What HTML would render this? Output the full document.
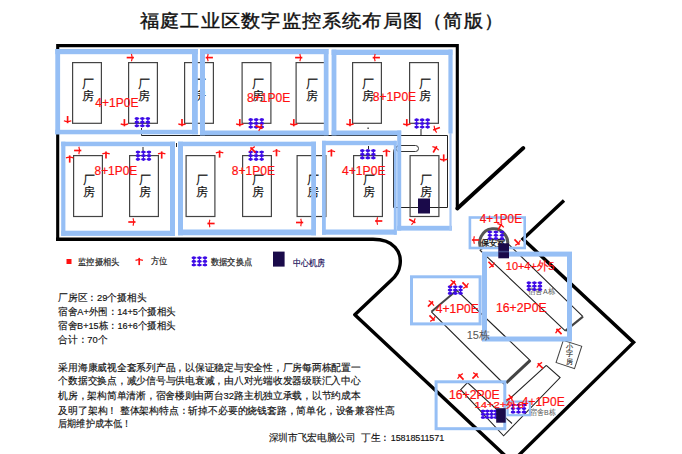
<!DOCTYPE html><html><head><meta charset="utf-8"><style>html,body{margin:0;padding:0;background:#fff;width:682px;height:454px;overflow:hidden}svg{position:absolute;left:0;top:0}.cj{font-family:"Liberation Sans",sans-serif;font-size:11.5px;fill:#111;stroke:#111;stroke-width:0.15}.t{font-family:"Liberation Sans",sans-serif}</style></head><body>
<svg width="682" height="454" viewBox="0 0 682 454">
<g transform="translate(140.0,27.1) scale(1.07,1)"><text x="0" y="0" font-size="17.9" fill="#111" stroke="#111" stroke-width="0.4" textLength="339.7" lengthAdjust="spacing" class="t">福庭工业区数字监控系统布局图（简版）</text></g>
<path d="M57.7,240 L57.7,45.6 L457.3,45.6 L457.3,208.5" fill="none" stroke="#000" stroke-width="3.1"/>
<path d="M457.3,208.5 L523.3,148" fill="none" stroke="#000" stroke-width="3.8" stroke-linecap="round" stroke-linejoin="round"/>
<path d="M56,239.3 L373,239.3 C394,239.3 402,252 400,265 C399,272 396,276 391.5,280 L354.8,314.8 L505,455.5" fill="none" stroke="#000" stroke-width="3.4" stroke-linejoin="round"/>
<path d="M564,200.5 L523,239 L633.6,342.4 L518,456" fill="none" stroke="#000" stroke-width="3.4"/>
<path d="M141.5,128 V135.5 H447.5 V207.5 H393.5 V153 Q393.5,146 400,146" fill="none" stroke="#222" stroke-width="1"/>
<rect x="396" y="145.5" width="22.5" height="6" rx="3" fill="none" stroke="#333" stroke-width="1"/>
<path d="M421,129 V135.5" stroke="#222" stroke-width="1"/>
<rect x="367.5" y="127.5" width="1.2" height="1.5" fill="#222"/>
<path d="M143,147 V151" stroke="#222" stroke-width="1"/>
<path d="M176.5,143 V147" stroke="#222" stroke-width="1"/>
<path d="M368.5,146 V149.5" stroke="#222" stroke-width="1"/>
<rect x="72.6" y="62.6" width="28.8" height="60.7" fill="none" stroke="#444" stroke-width="1.2"/>
<text x="88.2" y="87.85000000000001" class="cj" text-anchor="middle">厂</text>
<text x="88.2" y="99.95" class="cj" text-anchor="middle">房</text>
<rect x="128.6" y="62.6" width="28.8" height="60.7" fill="none" stroke="#444" stroke-width="1.2"/>
<text x="144.2" y="87.85000000000001" class="cj" text-anchor="middle">厂</text>
<text x="144.2" y="99.95" class="cj" text-anchor="middle">房</text>
<rect x="184.6" y="62.6" width="28.8" height="60.7" fill="none" stroke="#444" stroke-width="1.2"/>
<text x="200.2" y="87.85000000000001" class="cj" text-anchor="middle">厂</text>
<text x="200.2" y="99.95" class="cj" text-anchor="middle">房</text>
<rect x="242.1" y="62.6" width="28.8" height="60.7" fill="none" stroke="#444" stroke-width="1.2"/>
<text x="257.7" y="87.85000000000001" class="cj" text-anchor="middle">厂</text>
<text x="257.7" y="99.95" class="cj" text-anchor="middle">房</text>
<rect x="296.1" y="62.6" width="28.8" height="60.7" fill="none" stroke="#444" stroke-width="1.2"/>
<text x="311.7" y="87.85000000000001" class="cj" text-anchor="middle">厂</text>
<text x="311.7" y="99.95" class="cj" text-anchor="middle">房</text>
<rect x="352.6" y="62.6" width="28.8" height="60.7" fill="none" stroke="#444" stroke-width="1.2"/>
<text x="368.2" y="87.85000000000001" class="cj" text-anchor="middle">厂</text>
<text x="368.2" y="99.95" class="cj" text-anchor="middle">房</text>
<rect x="409.6" y="62.6" width="28.8" height="60.7" fill="none" stroke="#444" stroke-width="1.2"/>
<text x="425.2" y="87.85000000000001" class="cj" text-anchor="middle">厂</text>
<text x="425.2" y="99.95" class="cj" text-anchor="middle">房</text>
<rect x="73.6" y="155.6" width="28.8" height="60.89999999999999" fill="none" stroke="#444" stroke-width="1.2"/>
<text x="89.2" y="184.15" class="cj" text-anchor="middle">厂</text>
<text x="89.2" y="196.25" class="cj" text-anchor="middle">房</text>
<rect x="129.6" y="155.6" width="28.8" height="60.89999999999999" fill="none" stroke="#444" stroke-width="1.2"/>
<text x="145.2" y="184.15" class="cj" text-anchor="middle">厂</text>
<text x="145.2" y="196.25" class="cj" text-anchor="middle">房</text>
<rect x="186.1" y="155.6" width="28.8" height="60.89999999999999" fill="none" stroke="#444" stroke-width="1.2"/>
<text x="201.7" y="184.15" class="cj" text-anchor="middle">厂</text>
<text x="201.7" y="196.25" class="cj" text-anchor="middle">房</text>
<rect x="242.6" y="155.6" width="28.8" height="60.89999999999999" fill="none" stroke="#444" stroke-width="1.2"/>
<text x="258.2" y="184.15" class="cj" text-anchor="middle">厂</text>
<text x="258.2" y="196.25" class="cj" text-anchor="middle">房</text>
<rect x="297.1" y="155.6" width="28.8" height="60.89999999999999" fill="none" stroke="#444" stroke-width="1.2"/>
<text x="312.7" y="184.15" class="cj" text-anchor="middle">厂</text>
<text x="312.7" y="196.25" class="cj" text-anchor="middle">房</text>
<rect x="353.6" y="155.6" width="28.8" height="60.89999999999999" fill="none" stroke="#444" stroke-width="1.2"/>
<text x="369.2" y="184.15" class="cj" text-anchor="middle">厂</text>
<text x="369.2" y="196.25" class="cj" text-anchor="middle">房</text>
<rect x="410.1" y="155.6" width="28.8" height="60.89999999999999" fill="none" stroke="#444" stroke-width="1.2"/>
<text x="425.7" y="184.15" class="cj" text-anchor="middle">厂</text>
<text x="425.7" y="196.25" class="cj" text-anchor="middle">房</text>
<rect x="418" y="198.5" width="12" height="15" fill="#1a0a4a"/>
<rect x="55.3" y="49" width="142.5" height="5.200000000000003" fill="#96bff5"/>
<rect x="55.3" y="129.8" width="142.5" height="4.5" fill="#96bff5"/>
<rect x="55.3" y="49" width="4.799999999999997" height="85.30000000000001" fill="#96bff5"/>
<rect x="192.0" y="49" width="5.800000000000011" height="85.30000000000001" fill="#96bff5"/>
<rect x="200" y="49" width="128.5" height="5.200000000000003" fill="#96bff5"/>
<rect x="200" y="130.5" width="128.5" height="4.800000000000011" fill="#96bff5"/>
<rect x="200" y="49" width="5" height="86.30000000000001" fill="#96bff5"/>
<rect x="323.8" y="49" width="4.699999999999989" height="86.30000000000001" fill="#96bff5"/>
<rect x="331.6" y="49.6" width="120.79999999999995" height="5.399999999999999" fill="#96bff5"/>
<rect x="331.6" y="49.6" width="4.7999999999999545" height="85.70000000000002" fill="#96bff5"/>
<rect x="448.4" y="49.6" width="4.2000000000000455" height="83.9" fill="#96bff5"/>
<rect x="61.2" y="141.7" width="113.8" height="4.5" fill="#96bff5"/>
<rect x="61.2" y="230.70000000000002" width="113.8" height="5.199999999999989" fill="#96bff5"/>
<rect x="61.2" y="141.7" width="4.200000000000003" height="94.20000000000002" fill="#96bff5"/>
<rect x="170" y="141.7" width="5" height="94.20000000000002" fill="#96bff5"/>
<rect x="178" y="141.7" width="138" height="4.5" fill="#96bff5"/>
<rect x="178" y="229.5" width="138" height="5.800000000000011" fill="#96bff5"/>
<rect x="178" y="141.7" width="5" height="93.60000000000002" fill="#96bff5"/>
<rect x="311.2" y="141.7" width="4.800000000000011" height="93.60000000000002" fill="#96bff5"/>
<rect x="322" y="140.8" width="74.69999999999999" height="4.400000000000006" fill="#96bff5"/>
<rect x="322" y="229.5" width="74.69999999999999" height="5.199999999999989" fill="#96bff5"/>
<rect x="322" y="140.8" width="3.8000000000000114" height="93.89999999999998" fill="#96bff5"/>
<rect x="393.8" y="140.8" width="2.8999999999999773" height="93.89999999999998" fill="#96bff5"/>
<rect x="397.2" y="130.5" width="4.0" height="100.1" fill="#96bff5"/>
<rect x="331.6" y="130.5" width="69.59999999999997" height="4.800000000000011" fill="#96bff5"/>
<rect x="397.2" y="225.8" width="54.80000000000001" height="4.799999999999983" fill="#96bff5"/>
<rect x="449.4" y="133" width="2.2000000000000455" height="97.6" fill="#a9c8f5"/>
<line x1="136.8" y1="118.6" x2="147.9" y2="118.6" stroke="#3d0ae6" stroke-width="0.5" opacity="0.6"/>
<line x1="136.8" y1="122.19999999999999" x2="147.9" y2="122.19999999999999" stroke="#3d0ae6" stroke-width="0.5" opacity="0.6"/>
<line x1="136.8" y1="125.8" x2="147.9" y2="125.8" stroke="#3d0ae6" stroke-width="0.5" opacity="0.6"/>
<line x1="136.8" y1="117.25" x2="136.8" y2="127.14999999999999" stroke="#3d0ae6" stroke-width="1.1"/>
<ellipse cx="136.8" cy="118.6" rx="2.3" ry="1.35" fill="#3d0ae6"/>
<ellipse cx="136.8" cy="122.19999999999999" rx="2.3" ry="1.35" fill="#3d0ae6"/>
<ellipse cx="136.8" cy="125.8" rx="2.3" ry="1.35" fill="#3d0ae6"/>
<line x1="142.35000000000002" y1="117.25" x2="142.35000000000002" y2="127.14999999999999" stroke="#3d0ae6" stroke-width="1.1"/>
<ellipse cx="142.35000000000002" cy="118.6" rx="2.3" ry="1.35" fill="#3d0ae6"/>
<ellipse cx="142.35000000000002" cy="122.19999999999999" rx="2.3" ry="1.35" fill="#3d0ae6"/>
<ellipse cx="142.35000000000002" cy="125.8" rx="2.3" ry="1.35" fill="#3d0ae6"/>
<line x1="147.9" y1="117.25" x2="147.9" y2="127.14999999999999" stroke="#3d0ae6" stroke-width="1.1"/>
<ellipse cx="147.9" cy="118.6" rx="2.3" ry="1.35" fill="#3d0ae6"/>
<ellipse cx="147.9" cy="122.19999999999999" rx="2.3" ry="1.35" fill="#3d0ae6"/>
<ellipse cx="147.9" cy="125.8" rx="2.3" ry="1.35" fill="#3d0ae6"/>
<line x1="250.7" y1="119.7" x2="261.8" y2="119.7" stroke="#3d0ae6" stroke-width="0.5" opacity="0.6"/>
<line x1="250.7" y1="123.4" x2="261.8" y2="123.4" stroke="#3d0ae6" stroke-width="0.5" opacity="0.6"/>
<line x1="250.7" y1="127.10000000000001" x2="261.8" y2="127.10000000000001" stroke="#3d0ae6" stroke-width="0.5" opacity="0.6"/>
<line x1="250.7" y1="118.35000000000001" x2="250.7" y2="128.45000000000002" stroke="#3d0ae6" stroke-width="1.1"/>
<ellipse cx="250.7" cy="119.7" rx="2.3" ry="1.35" fill="#3d0ae6"/>
<ellipse cx="250.7" cy="123.4" rx="2.3" ry="1.35" fill="#3d0ae6"/>
<ellipse cx="250.7" cy="127.10000000000001" rx="2.3" ry="1.35" fill="#3d0ae6"/>
<line x1="256.25" y1="118.35000000000001" x2="256.25" y2="128.45000000000002" stroke="#3d0ae6" stroke-width="1.1"/>
<ellipse cx="256.25" cy="119.7" rx="2.3" ry="1.35" fill="#3d0ae6"/>
<ellipse cx="256.25" cy="123.4" rx="2.3" ry="1.35" fill="#3d0ae6"/>
<ellipse cx="256.25" cy="127.10000000000001" rx="2.3" ry="1.35" fill="#3d0ae6"/>
<line x1="261.8" y1="118.35000000000001" x2="261.8" y2="128.45000000000002" stroke="#3d0ae6" stroke-width="1.1"/>
<ellipse cx="261.8" cy="119.7" rx="2.3" ry="1.35" fill="#3d0ae6"/>
<ellipse cx="261.8" cy="123.4" rx="2.3" ry="1.35" fill="#3d0ae6"/>
<ellipse cx="261.8" cy="127.10000000000001" rx="2.3" ry="1.35" fill="#3d0ae6"/>
<line x1="416.6" y1="119.9" x2="427.70000000000005" y2="119.9" stroke="#3d0ae6" stroke-width="0.5" opacity="0.6"/>
<line x1="416.6" y1="123.5" x2="427.70000000000005" y2="123.5" stroke="#3d0ae6" stroke-width="0.5" opacity="0.6"/>
<line x1="416.6" y1="127.10000000000001" x2="427.70000000000005" y2="127.10000000000001" stroke="#3d0ae6" stroke-width="0.5" opacity="0.6"/>
<line x1="416.6" y1="118.55000000000001" x2="416.6" y2="128.45000000000002" stroke="#3d0ae6" stroke-width="1.1"/>
<ellipse cx="416.6" cy="119.9" rx="2.3" ry="1.35" fill="#3d0ae6"/>
<ellipse cx="416.6" cy="123.5" rx="2.3" ry="1.35" fill="#3d0ae6"/>
<ellipse cx="416.6" cy="127.10000000000001" rx="2.3" ry="1.35" fill="#3d0ae6"/>
<line x1="422.15000000000003" y1="118.55000000000001" x2="422.15000000000003" y2="128.45000000000002" stroke="#3d0ae6" stroke-width="1.1"/>
<ellipse cx="422.15000000000003" cy="119.9" rx="2.3" ry="1.35" fill="#3d0ae6"/>
<ellipse cx="422.15000000000003" cy="123.5" rx="2.3" ry="1.35" fill="#3d0ae6"/>
<ellipse cx="422.15000000000003" cy="127.10000000000001" rx="2.3" ry="1.35" fill="#3d0ae6"/>
<line x1="427.70000000000005" y1="118.55000000000001" x2="427.70000000000005" y2="128.45000000000002" stroke="#3d0ae6" stroke-width="1.1"/>
<ellipse cx="427.70000000000005" cy="119.9" rx="2.3" ry="1.35" fill="#3d0ae6"/>
<ellipse cx="427.70000000000005" cy="123.5" rx="2.3" ry="1.35" fill="#3d0ae6"/>
<ellipse cx="427.70000000000005" cy="127.10000000000001" rx="2.3" ry="1.35" fill="#3d0ae6"/>
<line x1="137.9" y1="152.1" x2="149.0" y2="152.1" stroke="#3d0ae6" stroke-width="0.5" opacity="0.6"/>
<line x1="137.9" y1="155.7" x2="149.0" y2="155.7" stroke="#3d0ae6" stroke-width="0.5" opacity="0.6"/>
<line x1="137.9" y1="159.29999999999998" x2="149.0" y2="159.29999999999998" stroke="#3d0ae6" stroke-width="0.5" opacity="0.6"/>
<line x1="137.9" y1="150.75" x2="137.9" y2="160.64999999999998" stroke="#3d0ae6" stroke-width="1.1"/>
<ellipse cx="137.9" cy="152.1" rx="2.3" ry="1.35" fill="#3d0ae6"/>
<ellipse cx="137.9" cy="155.7" rx="2.3" ry="1.35" fill="#3d0ae6"/>
<ellipse cx="137.9" cy="159.29999999999998" rx="2.3" ry="1.35" fill="#3d0ae6"/>
<line x1="143.45000000000002" y1="150.75" x2="143.45000000000002" y2="160.64999999999998" stroke="#3d0ae6" stroke-width="1.1"/>
<ellipse cx="143.45000000000002" cy="152.1" rx="2.3" ry="1.35" fill="#3d0ae6"/>
<ellipse cx="143.45000000000002" cy="155.7" rx="2.3" ry="1.35" fill="#3d0ae6"/>
<ellipse cx="143.45000000000002" cy="159.29999999999998" rx="2.3" ry="1.35" fill="#3d0ae6"/>
<line x1="149.0" y1="150.75" x2="149.0" y2="160.64999999999998" stroke="#3d0ae6" stroke-width="1.1"/>
<ellipse cx="149.0" cy="152.1" rx="2.3" ry="1.35" fill="#3d0ae6"/>
<ellipse cx="149.0" cy="155.7" rx="2.3" ry="1.35" fill="#3d0ae6"/>
<ellipse cx="149.0" cy="159.29999999999998" rx="2.3" ry="1.35" fill="#3d0ae6"/>
<line x1="250.6" y1="152.1" x2="261.7" y2="152.1" stroke="#3d0ae6" stroke-width="0.5" opacity="0.6"/>
<line x1="250.6" y1="155.7" x2="261.7" y2="155.7" stroke="#3d0ae6" stroke-width="0.5" opacity="0.6"/>
<line x1="250.6" y1="159.29999999999998" x2="261.7" y2="159.29999999999998" stroke="#3d0ae6" stroke-width="0.5" opacity="0.6"/>
<line x1="250.6" y1="150.75" x2="250.6" y2="160.64999999999998" stroke="#3d0ae6" stroke-width="1.1"/>
<ellipse cx="250.6" cy="152.1" rx="2.3" ry="1.35" fill="#3d0ae6"/>
<ellipse cx="250.6" cy="155.7" rx="2.3" ry="1.35" fill="#3d0ae6"/>
<ellipse cx="250.6" cy="159.29999999999998" rx="2.3" ry="1.35" fill="#3d0ae6"/>
<line x1="256.15" y1="150.75" x2="256.15" y2="160.64999999999998" stroke="#3d0ae6" stroke-width="1.1"/>
<ellipse cx="256.15" cy="152.1" rx="2.3" ry="1.35" fill="#3d0ae6"/>
<ellipse cx="256.15" cy="155.7" rx="2.3" ry="1.35" fill="#3d0ae6"/>
<ellipse cx="256.15" cy="159.29999999999998" rx="2.3" ry="1.35" fill="#3d0ae6"/>
<line x1="261.7" y1="150.75" x2="261.7" y2="160.64999999999998" stroke="#3d0ae6" stroke-width="1.1"/>
<ellipse cx="261.7" cy="152.1" rx="2.3" ry="1.35" fill="#3d0ae6"/>
<ellipse cx="261.7" cy="155.7" rx="2.3" ry="1.35" fill="#3d0ae6"/>
<ellipse cx="261.7" cy="159.29999999999998" rx="2.3" ry="1.35" fill="#3d0ae6"/>
<line x1="362.3" y1="150.7" x2="373.40000000000003" y2="150.7" stroke="#3d0ae6" stroke-width="0.5" opacity="0.6"/>
<line x1="362.3" y1="154.29999999999998" x2="373.40000000000003" y2="154.29999999999998" stroke="#3d0ae6" stroke-width="0.5" opacity="0.6"/>
<line x1="362.3" y1="157.89999999999998" x2="373.40000000000003" y2="157.89999999999998" stroke="#3d0ae6" stroke-width="0.5" opacity="0.6"/>
<line x1="362.3" y1="149.35" x2="362.3" y2="159.24999999999997" stroke="#3d0ae6" stroke-width="1.1"/>
<ellipse cx="362.3" cy="150.7" rx="2.3" ry="1.35" fill="#3d0ae6"/>
<ellipse cx="362.3" cy="154.29999999999998" rx="2.3" ry="1.35" fill="#3d0ae6"/>
<ellipse cx="362.3" cy="157.89999999999998" rx="2.3" ry="1.35" fill="#3d0ae6"/>
<line x1="367.85" y1="149.35" x2="367.85" y2="159.24999999999997" stroke="#3d0ae6" stroke-width="1.1"/>
<ellipse cx="367.85" cy="150.7" rx="2.3" ry="1.35" fill="#3d0ae6"/>
<ellipse cx="367.85" cy="154.29999999999998" rx="2.3" ry="1.35" fill="#3d0ae6"/>
<ellipse cx="367.85" cy="157.89999999999998" rx="2.3" ry="1.35" fill="#3d0ae6"/>
<line x1="373.40000000000003" y1="149.35" x2="373.40000000000003" y2="159.24999999999997" stroke="#3d0ae6" stroke-width="1.1"/>
<ellipse cx="373.40000000000003" cy="150.7" rx="2.3" ry="1.35" fill="#3d0ae6"/>
<ellipse cx="373.40000000000003" cy="154.29999999999998" rx="2.3" ry="1.35" fill="#3d0ae6"/>
<ellipse cx="373.40000000000003" cy="157.89999999999998" rx="2.3" ry="1.35" fill="#3d0ae6"/>
<text x="95.3" y="107.3" font-size="13" fill="#ff1010" stroke="#ff1010" stroke-width="0.22" textLength="43.10000000000001" lengthAdjust="spacingAndGlyphs" style="font-family:'Liberation Sans',sans-serif">4+1P0E</text>
<text x="247" y="102.2" font-size="13" fill="#ff1010" stroke="#ff1010" stroke-width="0.22" textLength="43.30000000000001" lengthAdjust="spacingAndGlyphs" style="font-family:'Liberation Sans',sans-serif">8+1P0E</text>
<text x="372.8" y="101.3" font-size="13" fill="#ff1010" stroke="#ff1010" stroke-width="0.22" textLength="43.39999999999998" lengthAdjust="spacingAndGlyphs" style="font-family:'Liberation Sans',sans-serif">8+1P0E</text>
<text x="94.5" y="175.4" font-size="13.4" fill="#ff1010" stroke="#ff1010" stroke-width="0.22" textLength="42.80000000000001" lengthAdjust="spacingAndGlyphs" style="font-family:'Liberation Sans',sans-serif">8+1P0E</text>
<text x="231.8" y="174.9" font-size="13" fill="#ff1010" stroke="#ff1010" stroke-width="0.22" textLength="43.19999999999999" lengthAdjust="spacingAndGlyphs" style="font-family:'Liberation Sans',sans-serif">8+1P0E</text>
<text x="342" y="174.9" font-size="13" fill="#ff1010" stroke="#ff1010" stroke-width="0.22" textLength="43.60000000000002" lengthAdjust="spacingAndGlyphs" style="font-family:'Liberation Sans',sans-serif">4+1P0E</text>
<g transform="translate(130.3,57.6) rotate(90) scale(0.88)"><path d="M0,-4.1 V4.1" stroke="#ff1010" stroke-width="1.9"/><path d="M-4.2,-1.3 Q0,-3.1 4.2,-1.3" fill="none" stroke="#ff1010" stroke-width="1.35"/></g>
<g transform="translate(67.6,119.6) rotate(180) scale(0.88)"><path d="M0,-4.1 V4.1" stroke="#ff1010" stroke-width="1.9"/><path d="M-4.2,-1.3 Q0,-3.1 4.2,-1.3" fill="none" stroke="#ff1010" stroke-width="1.35"/></g>
<g transform="translate(124.4,122.7) rotate(180) scale(0.88)"><path d="M0,-4.1 V4.1" stroke="#ff1010" stroke-width="1.9"/><path d="M-4.2,-1.3 Q0,-3.1 4.2,-1.3" fill="none" stroke="#ff1010" stroke-width="1.35"/></g>
<g transform="translate(182,122.7) rotate(180) scale(0.88)"><path d="M0,-4.1 V4.1" stroke="#ff1010" stroke-width="1.9"/><path d="M-4.2,-1.3 Q0,-3.1 4.2,-1.3" fill="none" stroke="#ff1010" stroke-width="1.35"/></g>
<g transform="translate(209.3,57.6) rotate(270) scale(0.88)"><path d="M0,-4.1 V4.1" stroke="#ff1010" stroke-width="1.9"/><path d="M-4.2,-1.3 Q0,-3.1 4.2,-1.3" fill="none" stroke="#ff1010" stroke-width="1.35"/></g>
<g transform="translate(298.7,57.6) rotate(90) scale(0.88)"><path d="M0,-4.1 V4.1" stroke="#ff1010" stroke-width="1.9"/><path d="M-4.2,-1.3 Q0,-3.1 4.2,-1.3" fill="none" stroke="#ff1010" stroke-width="1.35"/></g>
<g transform="translate(239.8,122.7) rotate(180) scale(0.88)"><path d="M0,-4.1 V4.1" stroke="#ff1010" stroke-width="1.9"/><path d="M-4.2,-1.3 Q0,-3.1 4.2,-1.3" fill="none" stroke="#ff1010" stroke-width="1.35"/></g>
<g transform="translate(293.8,122.7) rotate(180) scale(0.88)"><path d="M0,-4.1 V4.1" stroke="#ff1010" stroke-width="1.9"/><path d="M-4.2,-1.3 Q0,-3.1 4.2,-1.3" fill="none" stroke="#ff1010" stroke-width="1.35"/></g>
<g transform="translate(259,127) rotate(112) scale(0.88)"><path d="M0,-4.1 V4.1" stroke="#ff1010" stroke-width="1.9"/><path d="M-4.2,-1.3 Q0,-3.1 4.2,-1.3" fill="none" stroke="#ff1010" stroke-width="1.35"/></g>
<g transform="translate(376.3,57.6) rotate(270) scale(0.88)"><path d="M0,-4.1 V4.1" stroke="#ff1010" stroke-width="1.9"/><path d="M-4.2,-1.3 Q0,-3.1 4.2,-1.3" fill="none" stroke="#ff1010" stroke-width="1.35"/></g>
<g transform="translate(350,122.7) rotate(180) scale(0.88)"><path d="M0,-4.1 V4.1" stroke="#ff1010" stroke-width="1.9"/><path d="M-4.2,-1.3 Q0,-3.1 4.2,-1.3" fill="none" stroke="#ff1010" stroke-width="1.35"/></g>
<g transform="translate(406.8,122.7) rotate(180) scale(0.88)"><path d="M0,-4.1 V4.1" stroke="#ff1010" stroke-width="1.9"/><path d="M-4.2,-1.3 Q0,-3.1 4.2,-1.3" fill="none" stroke="#ff1010" stroke-width="1.35"/></g>
<g transform="translate(436.5,128.8) rotate(250) scale(0.88)"><path d="M0,-4.1 V4.1" stroke="#ff1010" stroke-width="1.9"/><path d="M-4.2,-1.3 Q0,-3.1 4.2,-1.3" fill="none" stroke="#ff1010" stroke-width="1.35"/></g>
<g transform="translate(69.7,159) rotate(0) scale(0.88)"><path d="M0,-4.1 V4.1" stroke="#ff1010" stroke-width="1.9"/><path d="M-4.2,-1.3 Q0,-3.1 4.2,-1.3" fill="none" stroke="#ff1010" stroke-width="1.35"/></g>
<g transform="translate(77.7,150.5) rotate(90) scale(0.88)"><path d="M0,-4.1 V4.1" stroke="#ff1010" stroke-width="1.9"/><path d="M-4.2,-1.3 Q0,-3.1 4.2,-1.3" fill="none" stroke="#ff1010" stroke-width="1.35"/></g>
<g transform="translate(106,155) rotate(0) scale(0.88)"><path d="M0,-4.1 V4.1" stroke="#ff1010" stroke-width="1.9"/><path d="M-4.2,-1.3 Q0,-3.1 4.2,-1.3" fill="none" stroke="#ff1010" stroke-width="1.35"/></g>
<g transform="translate(161.7,155) rotate(0) scale(0.88)"><path d="M0,-4.1 V4.1" stroke="#ff1010" stroke-width="1.9"/><path d="M-4.2,-1.3 Q0,-3.1 4.2,-1.3" fill="none" stroke="#ff1010" stroke-width="1.35"/></g>
<g transform="translate(131.9,222) rotate(90) scale(0.88)"><path d="M0,-4.1 V4.1" stroke="#ff1010" stroke-width="1.9"/><path d="M-4.2,-1.3 Q0,-3.1 4.2,-1.3" fill="none" stroke="#ff1010" stroke-width="1.35"/></g>
<g transform="translate(219.6,154) rotate(0) scale(0.88)"><path d="M0,-4.1 V4.1" stroke="#ff1010" stroke-width="1.9"/><path d="M-4.2,-1.3 Q0,-3.1 4.2,-1.3" fill="none" stroke="#ff1010" stroke-width="1.35"/></g>
<g transform="translate(276.5,152.7) rotate(0) scale(0.88)"><path d="M0,-4.1 V4.1" stroke="#ff1010" stroke-width="1.9"/><path d="M-4.2,-1.3 Q0,-3.1 4.2,-1.3" fill="none" stroke="#ff1010" stroke-width="1.35"/></g>
<g transform="translate(253,150) rotate(315) scale(0.88)"><path d="M0,-4.1 V4.1" stroke="#ff1010" stroke-width="1.9"/><path d="M-4.2,-1.3 Q0,-3.1 4.2,-1.3" fill="none" stroke="#ff1010" stroke-width="1.35"/></g>
<g transform="translate(211,223.5) rotate(270) scale(0.88)"><path d="M0,-4.1 V4.1" stroke="#ff1010" stroke-width="1.9"/><path d="M-4.2,-1.3 Q0,-3.1 4.2,-1.3" fill="none" stroke="#ff1010" stroke-width="1.35"/></g>
<g transform="translate(299.6,222.5) rotate(90) scale(0.88)"><path d="M0,-4.1 V4.1" stroke="#ff1010" stroke-width="1.9"/><path d="M-4.2,-1.3 Q0,-3.1 4.2,-1.3" fill="none" stroke="#ff1010" stroke-width="1.35"/></g>
<g transform="translate(331.4,152.9) rotate(0) scale(0.88)"><path d="M0,-4.1 V4.1" stroke="#ff1010" stroke-width="1.9"/><path d="M-4.2,-1.3 Q0,-3.1 4.2,-1.3" fill="none" stroke="#ff1010" stroke-width="1.35"/></g>
<g transform="translate(386.5,152.9) rotate(0) scale(0.88)"><path d="M0,-4.1 V4.1" stroke="#ff1010" stroke-width="1.9"/><path d="M-4.2,-1.3 Q0,-3.1 4.2,-1.3" fill="none" stroke="#ff1010" stroke-width="1.35"/></g>
<g transform="translate(378.7,221) rotate(270) scale(0.88)"><path d="M0,-4.1 V4.1" stroke="#ff1010" stroke-width="1.9"/><path d="M-4.2,-1.3 Q0,-3.1 4.2,-1.3" fill="none" stroke="#ff1010" stroke-width="1.35"/></g>
<g transform="translate(435,149.4) rotate(30) scale(0.88)"><path d="M0,-4.1 V4.1" stroke="#ff1010" stroke-width="1.9"/><path d="M-4.2,-1.3 Q0,-3.1 4.2,-1.3" fill="none" stroke="#ff1010" stroke-width="1.35"/></g>
<g transform="translate(443.7,158) rotate(180) scale(0.88)"><path d="M0,-4.1 V4.1" stroke="#ff1010" stroke-width="1.9"/><path d="M-4.2,-1.3 Q0,-3.1 4.2,-1.3" fill="none" stroke="#ff1010" stroke-width="1.35"/></g>
<g transform="translate(412.3,221) rotate(120) scale(0.88)"><path d="M0,-4.1 V4.1" stroke="#ff1010" stroke-width="1.9"/><path d="M-4.2,-1.3 Q0,-3.1 4.2,-1.3" fill="none" stroke="#ff1010" stroke-width="1.35"/></g>
<rect x="66.5" y="259" width="5" height="5" fill="#ff1010"/>
<text x="78.2" y="265.23" font-size="8.5" fill="#222" stroke="#222" stroke-width="0.2" textLength="41.099999999999994" lengthAdjust="spacingAndGlyphs" style="font-family:'Liberation Sans',sans-serif">监控摄相头</text>
<g transform="translate(139.2,261.5) rotate(0) scale(0.88)"><path d="M0,-4.1 V4.1" stroke="#ff1010" stroke-width="1.9"/><path d="M-4.2,-1.3 Q0,-3.1 4.2,-1.3" fill="none" stroke="#ff1010" stroke-width="1.35"/></g>
<text x="151.2" y="264.23" font-size="8.5" fill="#222" stroke="#222" stroke-width="0.2" textLength="16.30000000000001" lengthAdjust="spacingAndGlyphs" style="font-family:'Liberation Sans',sans-serif">方位</text>
<line x1="193.8" y1="257.8" x2="205.0" y2="257.8" stroke="#3d0ae6" stroke-width="0.5" opacity="0.6"/>
<line x1="193.8" y1="261.40000000000003" x2="205.0" y2="261.40000000000003" stroke="#3d0ae6" stroke-width="0.5" opacity="0.6"/>
<line x1="193.8" y1="265.0" x2="205.0" y2="265.0" stroke="#3d0ae6" stroke-width="0.5" opacity="0.6"/>
<line x1="193.8" y1="256.45" x2="193.8" y2="266.35" stroke="#3d0ae6" stroke-width="1.1"/>
<ellipse cx="193.8" cy="257.8" rx="2.3" ry="1.35" fill="#3d0ae6"/>
<ellipse cx="193.8" cy="261.40000000000003" rx="2.3" ry="1.35" fill="#3d0ae6"/>
<ellipse cx="193.8" cy="265.0" rx="2.3" ry="1.35" fill="#3d0ae6"/>
<line x1="199.4" y1="256.45" x2="199.4" y2="266.35" stroke="#3d0ae6" stroke-width="1.1"/>
<ellipse cx="199.4" cy="257.8" rx="2.3" ry="1.35" fill="#3d0ae6"/>
<ellipse cx="199.4" cy="261.40000000000003" rx="2.3" ry="1.35" fill="#3d0ae6"/>
<ellipse cx="199.4" cy="265.0" rx="2.3" ry="1.35" fill="#3d0ae6"/>
<line x1="205.0" y1="256.45" x2="205.0" y2="266.35" stroke="#3d0ae6" stroke-width="1.1"/>
<ellipse cx="205.0" cy="257.8" rx="2.3" ry="1.35" fill="#3d0ae6"/>
<ellipse cx="205.0" cy="261.40000000000003" rx="2.3" ry="1.35" fill="#3d0ae6"/>
<ellipse cx="205.0" cy="265.0" rx="2.3" ry="1.35" fill="#3d0ae6"/>
<text x="211" y="264.73" font-size="8.5" fill="#222" stroke="#222" stroke-width="0.2" textLength="41.099999999999994" lengthAdjust="spacingAndGlyphs" style="font-family:'Liberation Sans',sans-serif">数据交换点</text>
<rect x="273" y="251.6" width="11.6" height="15" fill="#1a0a4a"/>
<text x="292.5" y="265.83000000000004" font-size="8.5" fill="#20105a" stroke="#20105a" stroke-width="0.2" textLength="32.0" lengthAdjust="spacingAndGlyphs" style="font-family:'Liberation Sans',sans-serif">中心机房</text>
<text x="58.3" y="300.686" font-size="9.7" fill="#111" stroke="#111" stroke-width="0.16" textLength="87.89999999999999" lengthAdjust="spacingAndGlyphs" style="font-family:'Liberation Sans',sans-serif">厂房区：29个摄相头</text>
<text x="58.3" y="315.08599999999996" font-size="9.7" fill="#111" stroke="#111" stroke-width="0.16" textLength="117.60000000000001" lengthAdjust="spacingAndGlyphs" style="font-family:'Liberation Sans',sans-serif">宿舍A+外围：14+5个摄相头</text>
<text x="58.3" y="328.88599999999997" font-size="9.7" fill="#111" stroke="#111" stroke-width="0.16" textLength="117.2" lengthAdjust="spacingAndGlyphs" style="font-family:'Liberation Sans',sans-serif">宿舍B+15栋：16+6个摄相头</text>
<text x="58.3" y="342.58599999999996" font-size="9.7" fill="#111" stroke="#111" stroke-width="0.16" textLength="49.2" lengthAdjust="spacingAndGlyphs" style="font-family:'Liberation Sans',sans-serif">合计：70个</text>
<text x="58.3" y="370.686" font-size="9.7" fill="#111" stroke="#111" stroke-width="0.16" textLength="302.2" lengthAdjust="spacingAndGlyphs" style="font-family:'Liberation Sans',sans-serif">采用海康威视全套系列产品，以保证稳定与安全性，厂房每两栋配置一</text>
<text x="58.3" y="384.486" font-size="9.7" fill="#111" stroke="#111" stroke-width="0.16" textLength="302.2" lengthAdjust="spacingAndGlyphs" style="font-family:'Liberation Sans',sans-serif">个数据交换点，减少信号与供电衰减，由八对光端收发器级联汇入中心</text>
<text x="58.3" y="399.186" font-size="9.7" fill="#111" stroke="#111" stroke-width="0.16" textLength="302.2" lengthAdjust="spacingAndGlyphs" style="font-family:'Liberation Sans',sans-serif">机房，架构简单清淅，宿舍楼则由两台32路主机独立承载，以节约成本</text>
<text x="58.3" y="413.686" font-size="9.7" fill="#111" stroke="#111" stroke-width="0.16" textLength="336.2" lengthAdjust="spacingAndGlyphs" style="font-family:'Liberation Sans',sans-serif">及明了架构！  整体架构特点：斩掉不必要的烧钱套路，简单化，设备兼容性高</text>
<text x="58.3" y="426.986" font-size="9.7" fill="#111" stroke="#111" stroke-width="0.16" textLength="72.7" lengthAdjust="spacingAndGlyphs" style="font-family:'Liberation Sans',sans-serif">后期维护成本低！</text>
<text x="268.8" y="440.686" font-size="9.7" fill="#111" stroke="#111" stroke-width="0.16" textLength="86.69999999999999" lengthAdjust="spacingAndGlyphs" style="font-family:'Liberation Sans',sans-serif">深圳市飞宏电脑公司</text>
<text x="360.8" y="440.686" font-size="9.7" fill="#111" stroke="#111" stroke-width="0.16" textLength="29.19999999999999" lengthAdjust="spacingAndGlyphs" style="font-family:'Liberation Sans',sans-serif">丁生：</text>
<text x="390.8" y="440.8" font-size="9" fill="#111" stroke="#111" stroke-width="0.15" textLength="53.4" lengthAdjust="spacing" style="font-family:'Liberation Sans',sans-serif">15818511571</text>
<path d="M456.8,290.3 L530.6,360.8 M431.4,311.8 L505,385" fill="none" stroke="#222" stroke-width="1.1"/>
<path d="M431.4,311.8 L456.8,290.3" fill="none" stroke="#444" stroke-width="2"/><path d="M530.2,360.3 L506.2,382.8" fill="none" stroke="#444" stroke-width="3"/>
<path d="M479.8,250 L565.3,330.9 M507.6,243.3 L583,316.6" fill="none" stroke="#222" stroke-width="1.1"/>
<path d="M583,316.6 L565.3,330.9" fill="none" stroke="#444" stroke-width="2.2"/>
<path d="M481.6,249.8 A14,14 0 1 1 507,247" fill="none" stroke="#555" stroke-width="3"/>
<path d="M546.3,365.3 L560.1,377.6 L503.6,435.8 L460.7,389.7 L467.5,382.5 L512,423.5 M546.3,365.3 L506,402" fill="none" stroke="#222" stroke-width="1.1"/>
<g transform="translate(568.9,354.4) rotate(18)"><rect x="-9.7" y="-11.7" width="19.4" height="23.4" fill="#fff" stroke="#444" stroke-width="1"/></g>
<text x="569.2" y="348.6" font-size="6.8" fill="#333" stroke="#333" stroke-width="0.15" text-anchor="middle" style="font-family:'Liberation Sans',sans-serif">小</text>
<text x="569.2" y="356" font-size="6.8" fill="#333" stroke="#333" stroke-width="0.15" text-anchor="middle" style="font-family:'Liberation Sans',sans-serif">字</text>
<text x="569.2" y="364.2" font-size="6.8" fill="#333" stroke="#333" stroke-width="0.15" text-anchor="middle" style="font-family:'Liberation Sans',sans-serif">房</text>
<text x="481" y="245.644" font-size="8.8" fill="#111" stroke="#111" stroke-width="0.35" textLength="24.600000000000023" lengthAdjust="spacingAndGlyphs" style="font-family:'Liberation Sans',sans-serif">保安室</text>
<text x="527.9" y="294.15000000000003" font-size="7.5" fill="#555" stroke="#555" stroke-width="0" textLength="27.5" lengthAdjust="spacingAndGlyphs" style="font-family:'Liberation Sans',sans-serif">宿舍A栋</text>
<text x="530" y="415.34000000000003" font-size="8" fill="#555" stroke="#555" stroke-width="0" textLength="25.700000000000045" lengthAdjust="spacingAndGlyphs" style="font-family:'Liberation Sans',sans-serif">宿舍B栋</text>
<line x1="489.8" y1="232.0" x2="502.0" y2="232.0" stroke="#3d0ae6" stroke-width="0.5" opacity="0.6"/>
<line x1="489.8" y1="235.3" x2="502.0" y2="235.3" stroke="#3d0ae6" stroke-width="0.5" opacity="0.6"/>
<line x1="489.8" y1="238.6" x2="502.0" y2="238.6" stroke="#3d0ae6" stroke-width="0.5" opacity="0.6"/>
<line x1="489.8" y1="230.65" x2="489.8" y2="239.95" stroke="#3d0ae6" stroke-width="1.1"/>
<ellipse cx="489.8" cy="232.0" rx="2.3" ry="1.35" fill="#3d0ae6"/>
<ellipse cx="489.8" cy="235.3" rx="2.3" ry="1.35" fill="#3d0ae6"/>
<ellipse cx="489.8" cy="238.6" rx="2.3" ry="1.35" fill="#3d0ae6"/>
<line x1="495.90000000000003" y1="230.65" x2="495.90000000000003" y2="239.95" stroke="#3d0ae6" stroke-width="1.1"/>
<ellipse cx="495.90000000000003" cy="232.0" rx="2.3" ry="1.35" fill="#3d0ae6"/>
<ellipse cx="495.90000000000003" cy="235.3" rx="2.3" ry="1.35" fill="#3d0ae6"/>
<ellipse cx="495.90000000000003" cy="238.6" rx="2.3" ry="1.35" fill="#3d0ae6"/>
<line x1="502.0" y1="230.65" x2="502.0" y2="239.95" stroke="#3d0ae6" stroke-width="1.1"/>
<ellipse cx="502.0" cy="232.0" rx="2.3" ry="1.35" fill="#3d0ae6"/>
<ellipse cx="502.0" cy="235.3" rx="2.3" ry="1.35" fill="#3d0ae6"/>
<ellipse cx="502.0" cy="238.6" rx="2.3" ry="1.35" fill="#3d0ae6"/>
<line x1="528.8" y1="282.8" x2="540.0" y2="282.8" stroke="#3d0ae6" stroke-width="0.5" opacity="0.6"/>
<line x1="528.8" y1="286.2" x2="540.0" y2="286.2" stroke="#3d0ae6" stroke-width="0.5" opacity="0.6"/>
<line x1="528.8" y1="289.6" x2="540.0" y2="289.6" stroke="#3d0ae6" stroke-width="0.5" opacity="0.6"/>
<line x1="528.8" y1="281.45" x2="528.8" y2="290.95000000000005" stroke="#3d0ae6" stroke-width="1.1"/>
<ellipse cx="528.8" cy="282.8" rx="2.3" ry="1.35" fill="#3d0ae6"/>
<ellipse cx="528.8" cy="286.2" rx="2.3" ry="1.35" fill="#3d0ae6"/>
<ellipse cx="528.8" cy="289.6" rx="2.3" ry="1.35" fill="#3d0ae6"/>
<line x1="534.4" y1="281.45" x2="534.4" y2="290.95000000000005" stroke="#3d0ae6" stroke-width="1.1"/>
<ellipse cx="534.4" cy="282.8" rx="2.3" ry="1.35" fill="#3d0ae6"/>
<ellipse cx="534.4" cy="286.2" rx="2.3" ry="1.35" fill="#3d0ae6"/>
<ellipse cx="534.4" cy="289.6" rx="2.3" ry="1.35" fill="#3d0ae6"/>
<line x1="540.0" y1="281.45" x2="540.0" y2="290.95000000000005" stroke="#3d0ae6" stroke-width="1.1"/>
<ellipse cx="540.0" cy="282.8" rx="2.3" ry="1.35" fill="#3d0ae6"/>
<ellipse cx="540.0" cy="286.2" rx="2.3" ry="1.35" fill="#3d0ae6"/>
<ellipse cx="540.0" cy="289.6" rx="2.3" ry="1.35" fill="#3d0ae6"/>
<line x1="450" y1="286.8" x2="460.6" y2="286.8" stroke="#3d0ae6" stroke-width="0.5" opacity="0.6"/>
<line x1="450" y1="290.1" x2="460.6" y2="290.1" stroke="#3d0ae6" stroke-width="0.5" opacity="0.6"/>
<line x1="450" y1="293.40000000000003" x2="460.6" y2="293.40000000000003" stroke="#3d0ae6" stroke-width="0.5" opacity="0.6"/>
<line x1="450.0" y1="285.45" x2="450.0" y2="294.75000000000006" stroke="#3d0ae6" stroke-width="1.1"/>
<ellipse cx="450.0" cy="286.8" rx="2.3" ry="1.35" fill="#3d0ae6"/>
<ellipse cx="450.0" cy="290.1" rx="2.3" ry="1.35" fill="#3d0ae6"/>
<ellipse cx="450.0" cy="293.40000000000003" rx="2.3" ry="1.35" fill="#3d0ae6"/>
<line x1="455.3" y1="285.45" x2="455.3" y2="294.75000000000006" stroke="#3d0ae6" stroke-width="1.1"/>
<ellipse cx="455.3" cy="286.8" rx="2.3" ry="1.35" fill="#3d0ae6"/>
<ellipse cx="455.3" cy="290.1" rx="2.3" ry="1.35" fill="#3d0ae6"/>
<ellipse cx="455.3" cy="293.40000000000003" rx="2.3" ry="1.35" fill="#3d0ae6"/>
<line x1="460.6" y1="285.45" x2="460.6" y2="294.75000000000006" stroke="#3d0ae6" stroke-width="1.1"/>
<ellipse cx="460.6" cy="286.8" rx="2.3" ry="1.35" fill="#3d0ae6"/>
<ellipse cx="460.6" cy="290.1" rx="2.3" ry="1.35" fill="#3d0ae6"/>
<ellipse cx="460.6" cy="293.40000000000003" rx="2.3" ry="1.35" fill="#3d0ae6"/>
<line x1="483" y1="411.1" x2="495.9" y2="411.1" stroke="#3d0ae6" stroke-width="0.5" opacity="0.6"/>
<line x1="483" y1="414.3" x2="495.9" y2="414.3" stroke="#3d0ae6" stroke-width="0.5" opacity="0.6"/>
<line x1="483" y1="417.5" x2="495.9" y2="417.5" stroke="#3d0ae6" stroke-width="0.5" opacity="0.6"/>
<line x1="483.0" y1="409.75" x2="483.0" y2="418.85" stroke="#3d0ae6" stroke-width="1.1"/>
<ellipse cx="483.0" cy="411.1" rx="2.3" ry="1.35" fill="#3d0ae6"/>
<ellipse cx="483.0" cy="414.3" rx="2.3" ry="1.35" fill="#3d0ae6"/>
<ellipse cx="483.0" cy="417.5" rx="2.3" ry="1.35" fill="#3d0ae6"/>
<line x1="487.3" y1="409.75" x2="487.3" y2="418.85" stroke="#3d0ae6" stroke-width="1.1"/>
<ellipse cx="487.3" cy="411.1" rx="2.3" ry="1.35" fill="#3d0ae6"/>
<ellipse cx="487.3" cy="414.3" rx="2.3" ry="1.35" fill="#3d0ae6"/>
<ellipse cx="487.3" cy="417.5" rx="2.3" ry="1.35" fill="#3d0ae6"/>
<line x1="491.6" y1="409.75" x2="491.6" y2="418.85" stroke="#3d0ae6" stroke-width="1.1"/>
<ellipse cx="491.6" cy="411.1" rx="2.3" ry="1.35" fill="#3d0ae6"/>
<ellipse cx="491.6" cy="414.3" rx="2.3" ry="1.35" fill="#3d0ae6"/>
<ellipse cx="491.6" cy="417.5" rx="2.3" ry="1.35" fill="#3d0ae6"/>
<line x1="495.9" y1="409.75" x2="495.9" y2="418.85" stroke="#3d0ae6" stroke-width="1.1"/>
<ellipse cx="495.9" cy="411.1" rx="2.3" ry="1.35" fill="#3d0ae6"/>
<ellipse cx="495.9" cy="414.3" rx="2.3" ry="1.35" fill="#3d0ae6"/>
<ellipse cx="495.9" cy="417.5" rx="2.3" ry="1.35" fill="#3d0ae6"/>
<line x1="513" y1="405.0" x2="524.0" y2="405.0" stroke="#3d0ae6" stroke-width="0.5" opacity="0.6"/>
<line x1="513" y1="408.6" x2="524.0" y2="408.6" stroke="#3d0ae6" stroke-width="0.5" opacity="0.6"/>
<line x1="513" y1="412.2" x2="524.0" y2="412.2" stroke="#3d0ae6" stroke-width="0.5" opacity="0.6"/>
<line x1="513.0" y1="403.65" x2="513.0" y2="413.55" stroke="#3d0ae6" stroke-width="1.1"/>
<ellipse cx="513.0" cy="405.0" rx="2.3" ry="1.35" fill="#3d0ae6"/>
<ellipse cx="513.0" cy="408.6" rx="2.3" ry="1.35" fill="#3d0ae6"/>
<ellipse cx="513.0" cy="412.2" rx="2.3" ry="1.35" fill="#3d0ae6"/>
<line x1="518.5" y1="403.65" x2="518.5" y2="413.55" stroke="#3d0ae6" stroke-width="1.1"/>
<ellipse cx="518.5" cy="405.0" rx="2.3" ry="1.35" fill="#3d0ae6"/>
<ellipse cx="518.5" cy="408.6" rx="2.3" ry="1.35" fill="#3d0ae6"/>
<ellipse cx="518.5" cy="412.2" rx="2.3" ry="1.35" fill="#3d0ae6"/>
<line x1="524.0" y1="403.65" x2="524.0" y2="413.55" stroke="#3d0ae6" stroke-width="1.1"/>
<ellipse cx="524.0" cy="405.0" rx="2.3" ry="1.35" fill="#3d0ae6"/>
<ellipse cx="524.0" cy="408.6" rx="2.3" ry="1.35" fill="#3d0ae6"/>
<ellipse cx="524.0" cy="412.2" rx="2.3" ry="1.35" fill="#3d0ae6"/>
<rect x="469.90000000000003" y="217.5" width="54.799999999999976" height="30.50000000000002" fill="none" stroke="#96bff5" stroke-width="2.6"/>
<rect x="484.5" y="254.1" width="85" height="84.9" fill="none" stroke="#96bff5" stroke-width="5"/>
<rect x="411.5" y="276.8" width="68.60000000000002" height="47.099999999999966" fill="none" stroke="#96bff5" stroke-width="3"/>
<rect x="436.1" y="381.8" width="68.69999999999999" height="46.89999999999998" fill="none" stroke="#96bff5" stroke-width="3"/>
<rect x="507.6" y="401.6" width="22.3" height="13.600000000000012" fill="none" stroke="#96bff5" stroke-width="2.2"/>
<rect x="498.3" y="243.3" width="10.7" height="15" fill="#1a0a4a"/>
<rect x="498.3" y="250.8" width="10.7" height="1.6" fill="#5a6aa8" opacity="0.6"/>
<rect x="496.2" y="408.2" width="9.5" height="14.5" fill="#1a0a4a"/>
<text x="466.7" y="339.18" font-size="11" fill="#555" stroke="#555" stroke-width="0" textLength="23.30000000000001" lengthAdjust="spacingAndGlyphs" style="font-family:'Liberation Sans',sans-serif">15栋</text>
<text x="479.8" y="222.9" font-size="12" fill="#ff1010" stroke="#ff1010" stroke-width="0.22" textLength="42.19999999999999" lengthAdjust="spacingAndGlyphs" style="font-family:'Liberation Sans',sans-serif">4+1P0E</text>
<text x="505.8" y="270.3" font-size="11.5" fill="#ff1010" stroke="#ff1010" stroke-width="0.22" textLength="48.49999999999994" lengthAdjust="spacingAndGlyphs" style="font-family:'Liberation Sans',sans-serif">10+4+外5</text>
<text x="435.8" y="313" font-size="12.5" fill="#ff1010" stroke="#ff1010" stroke-width="0.22" textLength="43.0" lengthAdjust="spacingAndGlyphs" style="font-family:'Liberation Sans',sans-serif">4+1P0E</text>
<text x="496" y="312.2" font-size="13" fill="#ff1010" stroke="#ff1010" stroke-width="0.22" textLength="50.60000000000002" lengthAdjust="spacingAndGlyphs" style="font-family:'Liberation Sans',sans-serif">16+2P0E</text>
<text x="449" y="399.3" font-size="13" fill="#ff1010" stroke="#ff1010" stroke-width="0.22" textLength="50.69999999999999" lengthAdjust="spacingAndGlyphs" style="font-family:'Liberation Sans',sans-serif">16+2P0E</text>
<text x="474.5" y="408.2" font-size="9" fill="#ff1010" stroke="#ff1010" stroke-width="0.22" textLength="49.5" lengthAdjust="spacingAndGlyphs" style="font-family:'Liberation Sans',sans-serif">14+2+外6</text>
<text x="521.8" y="406" font-size="13" fill="#ff1010" stroke="#ff1010" stroke-width="0.22" textLength="42.90000000000009" lengthAdjust="spacingAndGlyphs" style="font-family:'Liberation Sans',sans-serif">4+1P0E</text>
<g transform="translate(475.5,240) rotate(270) scale(0.88)"><path d="M0,-4.1 V4.1" stroke="#ff1010" stroke-width="1.9"/><path d="M-4.2,-1.3 Q0,-3.1 4.2,-1.3" fill="none" stroke="#ff1010" stroke-width="1.35"/></g>
<g transform="translate(517,242) rotate(135) scale(0.88)"><path d="M0,-4.1 V4.1" stroke="#ff1010" stroke-width="1.9"/><path d="M-4.2,-1.3 Q0,-3.1 4.2,-1.3" fill="none" stroke="#ff1010" stroke-width="1.35"/></g>
<g transform="translate(500,226.5) rotate(30) scale(0.88)"><path d="M0,-4.1 V4.1" stroke="#ff1010" stroke-width="1.9"/><path d="M-4.2,-1.3 Q0,-3.1 4.2,-1.3" fill="none" stroke="#ff1010" stroke-width="1.35"/></g>
<g transform="translate(491,264.3) rotate(135) scale(0.88)"><path d="M0,-4.1 V4.1" stroke="#ff1010" stroke-width="1.9"/><path d="M-4.2,-1.3 Q0,-3.1 4.2,-1.3" fill="none" stroke="#ff1010" stroke-width="1.35"/></g>
<g transform="translate(559,331.5) rotate(315) scale(0.88)"><path d="M0,-4.1 V4.1" stroke="#ff1010" stroke-width="1.9"/><path d="M-4.2,-1.3 Q0,-3.1 4.2,-1.3" fill="none" stroke="#ff1010" stroke-width="1.35"/></g>
<g transform="translate(430.5,304) rotate(45) scale(0.88)"><path d="M0,-4.1 V4.1" stroke="#ff1010" stroke-width="1.9"/><path d="M-4.2,-1.3 Q0,-3.1 4.2,-1.3" fill="none" stroke="#ff1010" stroke-width="1.35"/></g>
<g transform="translate(432,318) rotate(135) scale(0.88)"><path d="M0,-4.1 V4.1" stroke="#ff1010" stroke-width="1.9"/><path d="M-4.2,-1.3 Q0,-3.1 4.2,-1.3" fill="none" stroke="#ff1010" stroke-width="1.35"/></g>
<g transform="translate(452.5,283.5) rotate(45) scale(0.88)"><path d="M0,-4.1 V4.1" stroke="#ff1010" stroke-width="1.9"/><path d="M-4.2,-1.3 Q0,-3.1 4.2,-1.3" fill="none" stroke="#ff1010" stroke-width="1.35"/></g>
<g transform="translate(465,285) rotate(135) scale(0.88)"><path d="M0,-4.1 V4.1" stroke="#ff1010" stroke-width="1.9"/><path d="M-4.2,-1.3 Q0,-3.1 4.2,-1.3" fill="none" stroke="#ff1010" stroke-width="1.35"/></g>
<g transform="translate(540.3,365.8) rotate(315) scale(0.88)"><path d="M0,-4.1 V4.1" stroke="#ff1010" stroke-width="1.9"/><path d="M-4.2,-1.3 Q0,-3.1 4.2,-1.3" fill="none" stroke="#ff1010" stroke-width="1.35"/></g>
<g transform="translate(461,377) rotate(315) scale(0.88)"><path d="M0,-4.1 V4.1" stroke="#ff1010" stroke-width="1.9"/><path d="M-4.2,-1.3 Q0,-3.1 4.2,-1.3" fill="none" stroke="#ff1010" stroke-width="1.35"/></g>
<g transform="translate(475,376) rotate(45) scale(0.88)"><path d="M0,-4.1 V4.1" stroke="#ff1010" stroke-width="1.9"/><path d="M-4.2,-1.3 Q0,-3.1 4.2,-1.3" fill="none" stroke="#ff1010" stroke-width="1.35"/></g>
<g transform="translate(509.5,398.5) rotate(60) scale(0.88)"><path d="M0,-4.1 V4.1" stroke="#ff1010" stroke-width="1.9"/><path d="M-4.2,-1.3 Q0,-3.1 4.2,-1.3" fill="none" stroke="#ff1010" stroke-width="1.35"/></g>
</svg></body></html>
